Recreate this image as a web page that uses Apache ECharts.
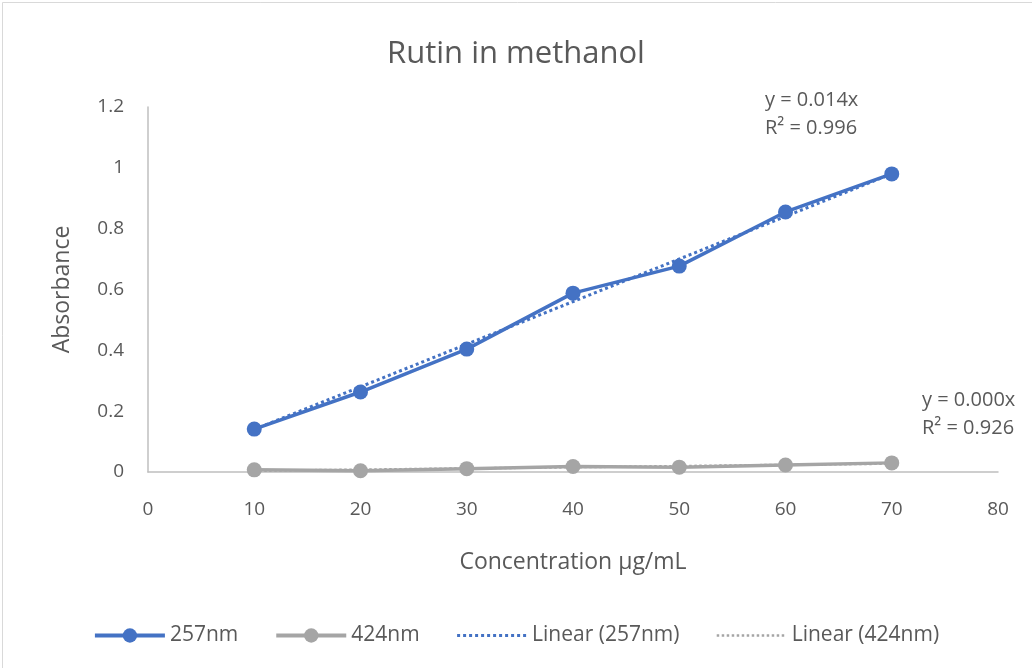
<!DOCTYPE html>
<html>
<head>
<meta charset="utf-8">
<script src="https://cdn.jsdelivr.net/npm/echarts@6/dist/echarts.min.js"></script>
<style>
  html, body { margin: 0; padding: 0; background: #fff; }
  #chart { width: 1032px; height: 668px; }
</style>
</head>
<body>
<div id="chart"></div>
<script>
// 浓度 (µg/mL)
var concentration = [10, 20, 30, 40, 50, 60, 70];
// 吸光度
var abs257 = [0.141, 0.263, 0.404, 0.588, 0.677, 0.855, 0.980];
var abs424 = [0.007, 0.004, 0.011, 0.018, 0.016, 0.023, 0.030];
var xTicks = [0, 10, 20, 30, 40, 50, 60, 70, 80];
var yTicks = [0, 0.2, 0.4, 0.6, 0.8, 1, 1.2];

var textColor = '#595959';
var fontName = 'Open Sans';

// 过原点线性回归 (Excel 趋势线, 截距=0)
function fitThroughOrigin(xs, ys) {
	var sxy = 0, sxx = 0;
	for (var i = 0; i < xs.length; i++) {
		sxy += xs[i] * ys[i];
		sxx += xs[i] * xs[i];
	}
	return sxy / sxx;
}
function trendPoints(xs, ys) {
	var k = fitThroughOrigin(xs, ys);
	var first = xs[0], last = xs[xs.length - 1];
	return [[first, k * first], [last, k * last]];
}
function pairs(xs, ys) {
	var out = [];
	for (var i = 0; i < xs.length; i++) out.push([xs[i], ys[i]]);
	return out;
}

var myChart = echarts.init(document.getElementById('chart'));
var hideSymbol = { color: 'rgba(0,0,0,0)', borderWidth: 0 };
var option = {
	backgroundColor: '#fff',
	textStyle: { fontFamily: fontName },
	title: {
		text: 'Rutin in methanol',
		left: 'center',
		top: 34,
		textStyle: { color: textColor, fontSize: 31, fontWeight: 'normal', fontFamily: fontName }
	},
	grid: { left: 148, right: 34, top: 107, bottom: 196 },
	legend: {
		bottom: 17,
		left: 'center',
		itemWidth: 70,
		itemHeight: 18,
		itemGap: 36,
		itemTextGap: 9,
		textStyle: { color: textColor, fontSize: 21, fontFamily: fontName },
		data: [
			{ name: '257nm', lineStyle: { width: 4 } },
			{ name: '424nm', lineStyle: { width: 4 } },
			{ name: 'Linear (257nm)', itemStyle: hideSymbol, lineStyle: { width: 3 } },
			{ name: 'Linear (424nm)', itemStyle: hideSymbol, lineStyle: { width: 2.5 } }
		]
	},
	xAxis: {
		type: 'value',
		min: xTicks[0],
		max: xTicks[xTicks.length - 1],
		interval: 10,
		name: 'Concentration µg/mL',
		nameLocation: 'middle',
		nameGap: 79,
		nameTextStyle: { color: textColor, fontSize: 23, fontFamily: fontName },
		axisLine: { show: true, lineStyle: { color: '#bfbfbf', width: 1.5 } },
		axisTick: { show: false },
		splitLine: { show: false },
		axisLabel: { color: textColor, fontSize: 19, margin: 28, fontFamily: fontName }
	},
	yAxis: {
		type: 'value',
		min: yTicks[0],
		max: yTicks[yTicks.length - 1],
		interval: 0.2,
		name: 'Absorbance',
		nameLocation: 'middle',
		nameGap: 74,
		nameTextStyle: { color: textColor, fontSize: 23, fontFamily: fontName },
		axisLine: { show: true, lineStyle: { color: '#bfbfbf', width: 1.5 } },
		axisTick: { show: false },
		splitLine: { show: false },
		axisLabel: {
			color: textColor, fontSize: 19, margin: 24, fontFamily: fontName,
			formatter: function(v) { return String(Math.round(v * 10) / 10); }
		}
	},
	series: [{
		name: 'Linear (424nm)',
		type: 'line',
		data: trendPoints(concentration, abs424),
		symbol: 'none',
		lineStyle: { color: '#a5a5a5', width: 2.5, type: 'dotted' },
		itemStyle: { color: '#a5a5a5' },
		z: 2
	}, {
		name: '424nm',
		type: 'line',
		data: pairs(concentration, abs424),
		symbol: 'circle',
		symbolSize: 15,
		lineStyle: { color: '#a5a5a5', width: 3.5 },
		itemStyle: { color: '#a5a5a5' },
		z: 3
	}, {
		name: 'Linear (257nm)',
		type: 'line',
		data: trendPoints(concentration, abs257),
		symbol: 'none',
		lineStyle: { color: '#4472c4', width: 3, type: 'dotted' },
		itemStyle: { color: '#4472c4' },
		z: 4
	}, {
		name: '257nm',
		type: 'line',
		data: pairs(concentration, abs257),
		symbol: 'circle',
		symbolSize: 15,
		lineStyle: { color: '#4472c4', width: 3.5 },
		itemStyle: { color: '#4472c4' },
		z: 5
	}],
	graphic: [{
		type: 'rect',
		left: 0, top: 0,
		shape: { width: 1031, height: 667 },
		style: { fill: 'none', stroke: '#d9d9d9', lineWidth: 1 },
		silent: true
	}, {
		type: 'text',
		left: 765, top: 86,
		style: { text: 'y = 0.014x\nR² = 0.996', fill: textColor, fontSize: 20, lineHeight: 28, fontFamily: fontName }
	}, {
		type: 'text',
		left: 922, top: 386,
		style: { text: 'y = 0.000x\nR² = 0.926', fill: textColor, fontSize: 20, lineHeight: 28, fontFamily: fontName }
	}]
};
myChart.setOption(option);
window.onresize = function() {
	myChart.resize();
};
</script>
</body>
</html>
